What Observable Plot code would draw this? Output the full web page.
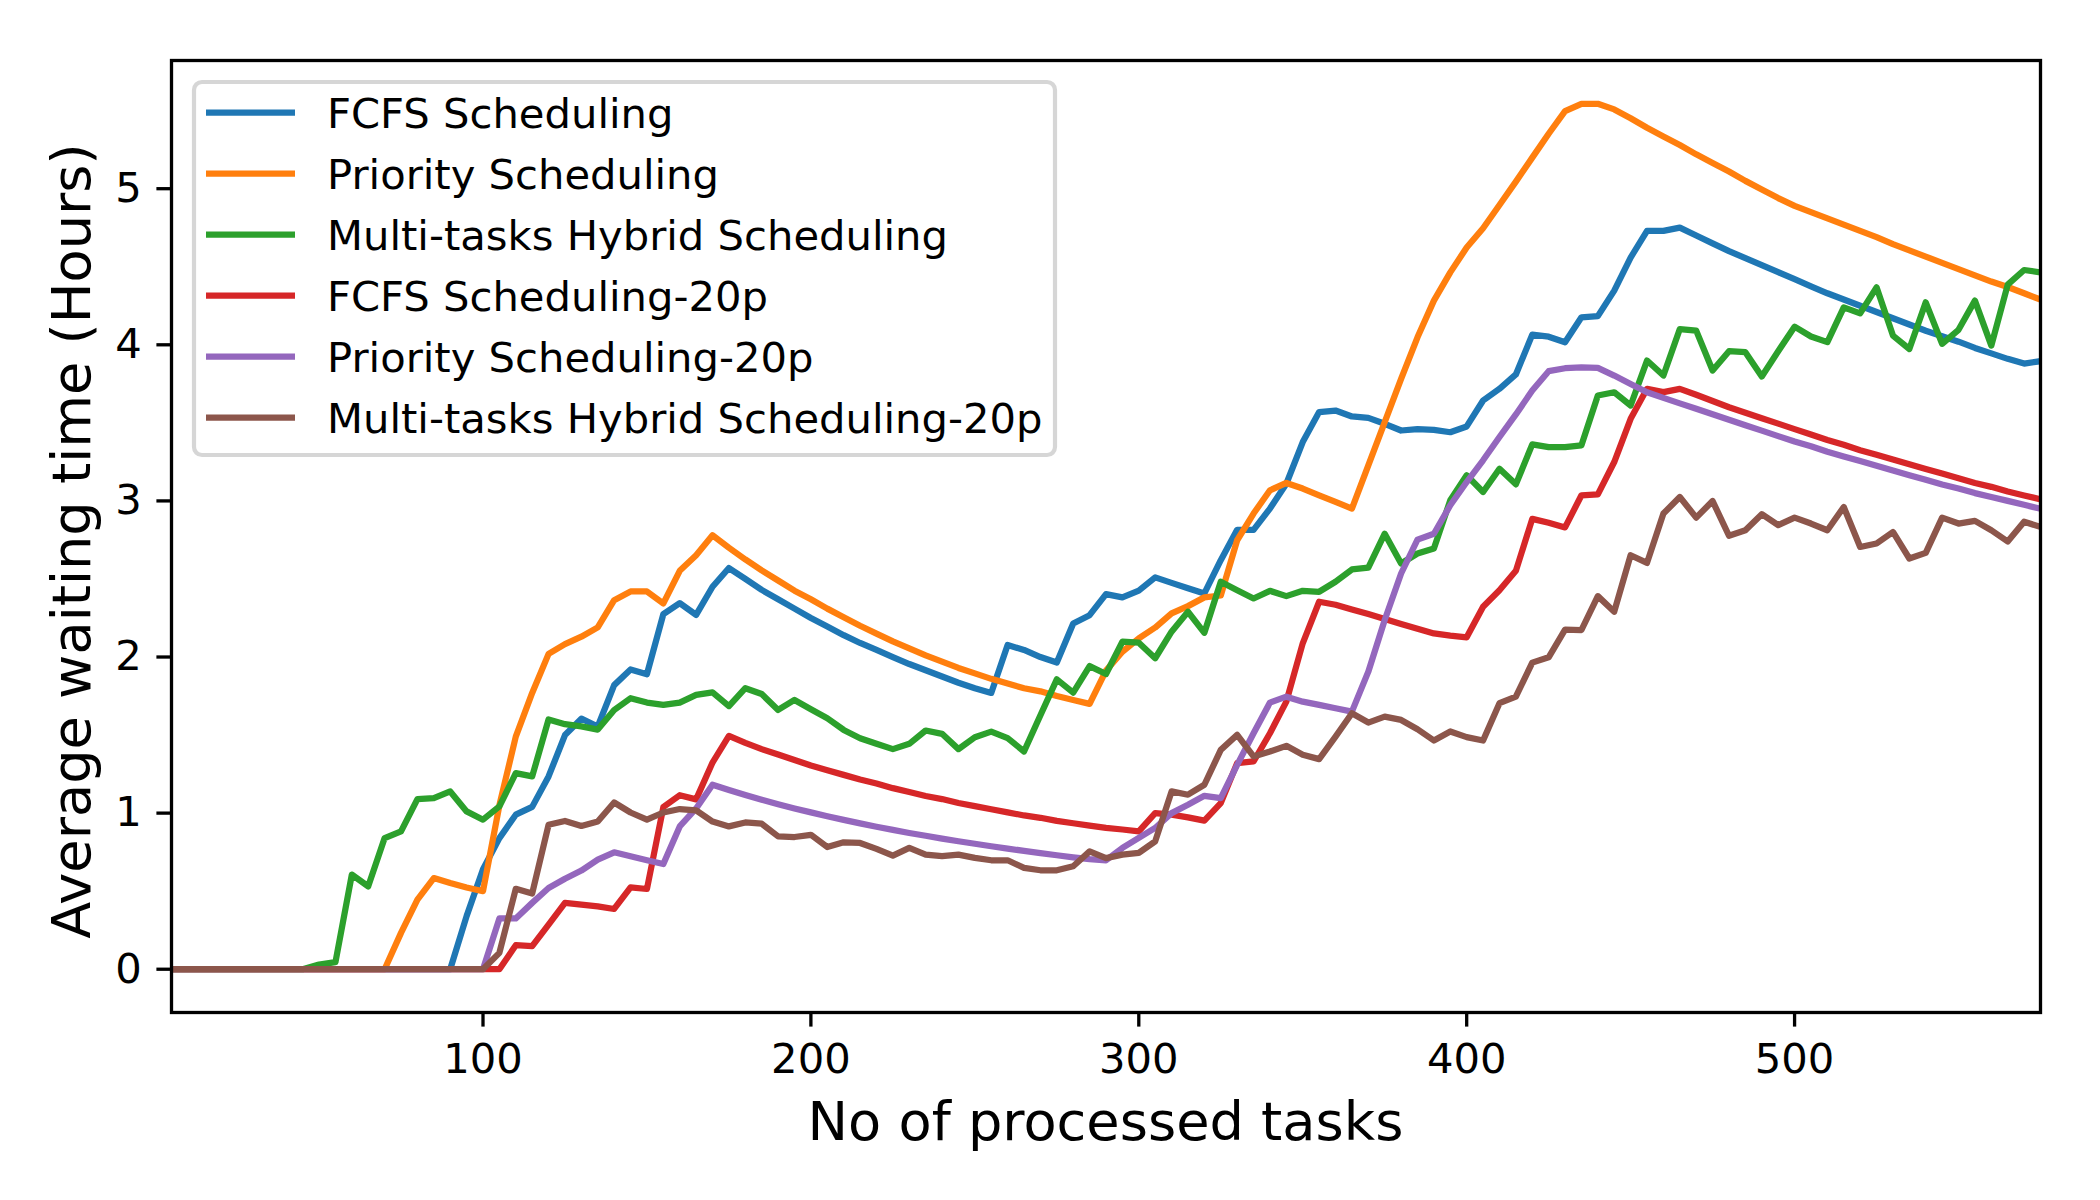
<!DOCTYPE html>
<html><head><meta charset="utf-8">
<script src="https://cdn.jsdelivr.net/npm/d3@7"></script>
<script src="https://cdn.jsdelivr.net/npm/@observablehq/plot@0.6"></script>
<style>html,body{margin:0;padding:0;background:#fff;} #chart{width:2100px;height:1200px;}</style>
</head><body><div id="chart"></div>
<script>
const names = [
  "FCFS Scheduling",
  "Priority Scheduling",
  "Multi-tasks Hybrid Scheduling",
  "FCFS Scheduling-20p",
  "Priority Scheduling-20p",
  "Multi-tasks Hybrid Scheduling-20p"
];
const colors = ["#1f77b4","#ff7f0e","#2ca02c","#d62728","#9467bd","#8c564b"];

const tasks = [
  5,10,15,20,25,30,35,40,45,50,
  55,60,65,70,75,80,85,90,95,100,
  105,110,115,120,125,130,135,140,145,150,
  155,160,165,170,175,180,185,190,195,200,
  205,210,215,220,225,230,235,240,245,250,
  255,260,265,270,275,280,285,290,295,300,
  305,310,315,320,325,330,335,340,345,350,
  355,360,365,370,375,380,385,390,395,400,
  405,410,415,420,425,430,435,440,445,450,
  455,460,465,470,475,480,485,490,495,500,
  505,510,515,520,525,530,535,540,545,550,
  555,560,565,570,575
];

const fcfs = [
  0,0,0,0,0,0,0,0,0,0,
  0,0,0,0,0,0,0,0,0.34,0.64,
  0.84,0.99,1.04,1.235,1.50,1.605,1.555,1.82,1.92,1.89,
  2.275,2.345,2.27,2.45,2.57,2.50,2.43,2.37,2.31,2.25,
  2.195,2.14,2.09,2.045,2.0,1.955,1.915,1.875,1.835,1.80,
  1.77,2.077,2.045,2.0,1.965,2.215,2.268,2.403,2.382,2.425,
  2.51,2.475,2.44,2.407,2.62,2.815,2.815,2.951,3.11,3.377,
  3.569,3.579,3.541,3.532,3.494,3.451,3.46,3.455,3.44,3.477,
  3.643,3.718,3.81,4.065,4.052,4.016,4.176,4.184,4.347,4.559,
  4.73,4.73,4.751,4.70,4.65,4.60,4.555,4.51,4.465,4.42,
  4.375,4.33,4.29,4.25,4.21,4.17,4.13,4.09,4.055,4.02,
  3.98,3.945,3.91,3.88,3.895
];
const priority = [
  0,0,0,0,0,0,0,0,0,0,
  0,0,0,0,0.233,0.446,0.584,0.552,0.524,0.50,
  1.05,1.49,1.77,2.02,2.083,2.13,2.19,2.364,2.42,2.42,
  2.343,2.552,2.652,2.78,2.70,2.625,2.555,2.49,2.425,2.37,
  2.31,2.255,2.20,2.15,2.10,2.055,2.01,1.97,1.93,1.895,
  1.86,1.83,1.80,1.78,1.75,1.725,1.70,1.913,2.034,2.119,
  2.189,2.279,2.326,2.382,2.394,2.748,2.919,3.068,3.115,3.079,
  3.036,2.994,2.951,3.228,3.505,3.782,4.048,4.283,4.464,4.623,
  4.747,4.896,5.045,5.199,5.352,5.497,5.544,5.544,5.508,5.451,
  5.39,5.335,5.28,5.22,5.165,5.11,5.05,4.995,4.94,4.89,
  4.85,4.81,4.77,4.73,4.69,4.645,4.605,4.565,4.525,4.485,
  4.445,4.405,4.37,4.33,4.29
];
const hybrid = [
  0,0,0,0,0,0,0,0,0,0.03,
  0.045,0.606,0.531,0.84,0.883,1.09,1.096,1.139,1.011,0.958,
  1.043,1.256,1.235,1.60,1.57,1.556,1.535,1.661,1.736,1.708,
  1.693,1.708,1.757,1.774,1.686,1.80,1.763,1.661,1.725,1.665,
  1.608,1.533,1.48,1.444,1.41,1.444,1.529,1.508,1.41,1.486,
  1.522,1.48,1.395,1.627,1.857,1.772,1.942,1.891,2.098,2.092,
  1.992,2.162,2.29,2.155,2.482,2.428,2.375,2.424,2.39,2.424,
  2.418,2.482,2.561,2.573,2.79,2.599,2.663,2.695,3.004,3.164,
  3.057,3.206,3.106,3.362,3.345,3.345,3.356,3.675,3.696,3.611,
  3.899,3.803,4.101,4.091,3.835,3.959,3.953,3.797,3.959,4.116,
  4.053,4.017,4.24,4.201,4.368,4.059,3.973,4.272,4.006,4.096,
  4.283,3.995,4.385,4.479,4.464
];
const fcfs20 = [
  0,0,0,0,0,0,0,0,0,0,
  0,0,0,0,0,0,0,0,0,0,
  0,0.154,0.148,0.286,0.425,0.414,0.403,0.386,0.524,0.514,
  1.039,1.115,1.088,1.324,1.495,1.45,1.41,1.375,1.34,1.305,
  1.275,1.245,1.215,1.19,1.16,1.135,1.11,1.09,1.065,1.045,
  1.025,1.005,0.985,0.97,0.95,0.935,0.92,0.905,0.895,0.883,
  1.0,0.99,0.973,0.952,1.064,1.32,1.331,1.512,1.714,2.088,
  2.354,2.335,2.305,2.275,2.243,2.211,2.181,2.151,2.137,2.126,
  2.322,2.428,2.552,2.885,2.86,2.83,3.036,3.042,3.249,3.526,
  3.718,3.697,3.718,3.68,3.64,3.60,3.565,3.53,3.495,3.46,
  3.425,3.39,3.36,3.325,3.295,3.265,3.235,3.205,3.175,3.145,
  3.115,3.09,3.06,3.035,3.01
];
const priority20 = [
  0,0,0,0,0,0,0,0,0,0,
  0,0,0,0,0,0,0,0,0,0,
  0.325,0.325,0.425,0.52,0.58,0.632,0.702,0.749,0.724,0.698,
  0.674,0.915,1.03,1.182,1.148,1.116,1.086,1.057,1.03,1.005,
  0.98,0.957,0.934,0.913,0.893,0.873,0.855,0.837,0.82,0.804,
  0.788,0.773,0.758,0.744,0.73,0.717,0.705,0.698,0.777,0.841,
  0.905,1.0,1.054,1.111,1.096,1.309,1.512,1.708,1.746,1.714,
  1.693,1.672,1.65,1.906,2.237,2.535,2.752,2.79,2.972,3.121,
  3.26,3.409,3.554,3.707,3.831,3.85,3.856,3.852,3.803,3.749,
  3.696,3.66,3.625,3.59,3.555,3.52,3.485,3.45,3.415,3.38,
  3.35,3.315,3.285,3.255,3.225,3.195,3.165,3.135,3.105,3.08,
  3.05,3.025,3.0,2.975,2.95
];
const hybrid20 = [
  0,0,0,0,0,0,0,0,0,0,
  0,0,0,0,0,0,0,0,0,0,
  0.105,0.515,0.485,0.926,0.95,0.918,0.946,1.068,1.004,0.958,
  1.004,1.026,1.018,0.946,0.915,0.94,0.932,0.851,0.847,0.861,
  0.783,0.813,0.809,0.771,0.728,0.777,0.734,0.724,0.734,0.713,
  0.698,0.698,0.649,0.634,0.634,0.66,0.755,0.712,0.734,0.745,
  0.819,1.139,1.118,1.182,1.405,1.501,1.363,1.395,1.431,1.374,
  1.346,1.49,1.64,1.58,1.618,1.597,1.537,1.465,1.523,1.487,
  1.465,1.704,1.746,1.964,1.998,2.175,2.173,2.39,2.29,2.652,
  2.603,2.919,3.025,2.893,2.999,2.777,2.812,2.915,2.845,2.893,
  2.855,2.812,2.961,2.705,2.727,2.801,2.631,2.667,2.893,2.855,
  2.872,2.812,2.74,2.867,2.833
];

const xTicks = [100, 200, 300, 400, 500];
const yTicks = [0, 1, 2, 3, 4, 5];
const xLabel = "No of processed tasks";
const yLabel = "Average waiting time (Hours)";

const seriesValues = [fcfs, priority, hybrid, fcfs20, priority20, hybrid20];
const rows = [];
names.forEach((n, i) => seriesValues[i].forEach((v, j) => rows.push({task: tasks[j], value: v, series: n})));

const FONT = "DejaVu Sans";
const chart = Plot.plot({
  width: 2100, height: 1200,
  marginLeft: 171, marginRight: 60, marginTop: 60, marginBottom: 188,
  style: {fontFamily: FONT, background: "white", color: "black"},
  x: {domain: [5, 575]},
  y: {domain: [-0.2772, 5.8212]},
  color: {domain: names, range: colors},
  marks: [
    Plot.line(rows, {x: "task", y: "value", z: "series", stroke: "series",
      strokeWidth: 6.25, strokeLinejoin: "round", strokeLinecap: "square", clip: true}),
    Plot.frame({stroke: "black", strokeWidth: 3.3}),
    Plot.axisX(xTicks, {tickSize: 14.6, tickPadding: 16, fontSize: 41.7, strokeWidth: 3.3, label: null, tickFormat: d3.format("d")}),
    Plot.axisY(yTicks, {tickSize: 14.6, tickPadding: 15, fontSize: 41.7, strokeWidth: 3.3, label: null, tickFormat: d3.format("d")})
  ]
});
document.getElementById("chart").appendChild(chart);

const svg = d3.select(chart);
svg.append("text")
  .attr("x", 1105.5).attr("y", 1140)
  .attr("text-anchor", "middle")
  .attr("font-family", FONT).attr("font-size", 54.2).attr("fill", "black")
  .text(xLabel);
svg.append("text")
  .attr("transform", "translate(90,541) rotate(-90)")
  .attr("text-anchor", "middle")
  .attr("font-family", FONT).attr("font-size", 54.2).attr("fill", "black")
  .text(yLabel);

// legend (upper left, inside the axes)
const lg = svg.append("g").attr("text-anchor", "start");
lg.append("rect")
  .attr("x", 194).attr("y", 82).attr("width", 861).attr("height", 373)
  .attr("rx", 8).attr("ry", 8)
  .attr("fill", "white").attr("fill-opacity", 0.8)
  .attr("stroke", "#d6d6d6").attr("stroke-width", 4.2);
names.forEach((n, i) => {
  const cy = 112.7 + 61 * i;
  lg.append("line")
    .attr("x1", 206).attr("x2", 295).attr("y1", cy).attr("y2", cy)
    .attr("stroke", colors[i]).attr("stroke-width", 6.25);
  lg.append("text")
    .attr("x", 327).attr("y", cy + 15.6)
    .attr("text-anchor", "start")
    .attr("font-family", FONT).attr("font-size", 41.7).attr("fill", "black")
    .text(n);
});
</script>
</body></html>
